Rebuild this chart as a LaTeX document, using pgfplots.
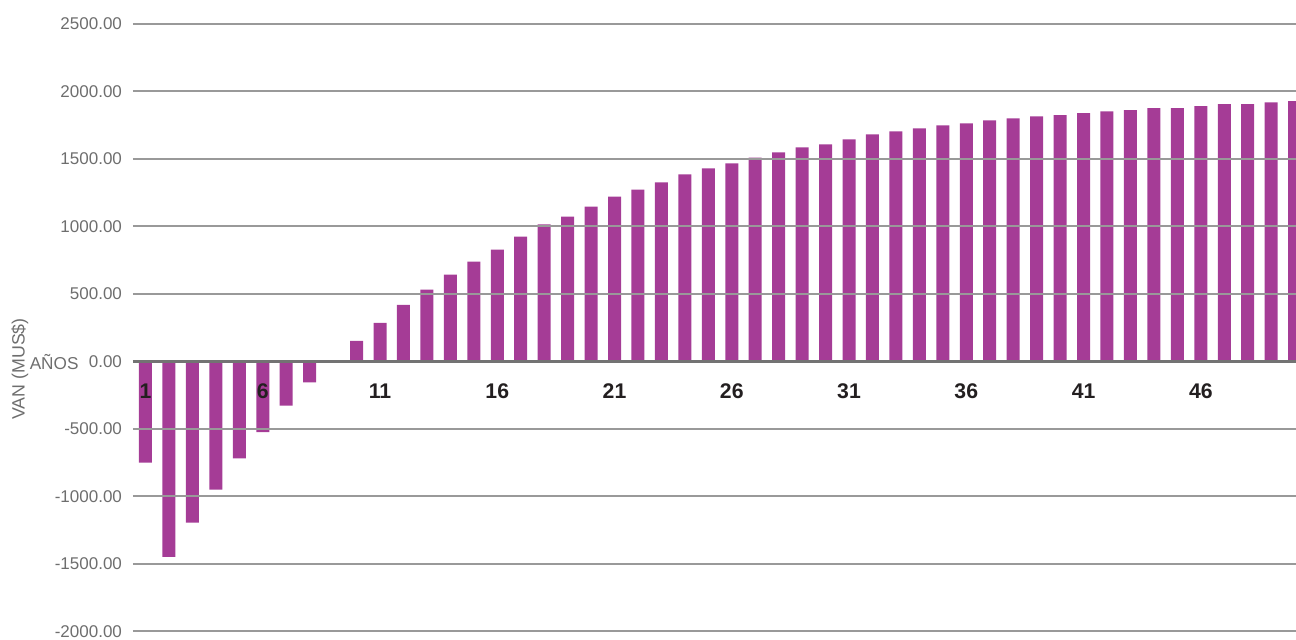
\documentclass[border=0pt]{standalone}
\usepackage{fontspec}
\setmainfont{Liberation Sans}
\usepackage{pgfplots}
\pgfplotsset{compat=1.18}
\definecolor{barpurple}{HTML}{A53C96}
\definecolor{gridgray}{HTML}{999999}
\definecolor{zerogray}{HTML}{737373}
\definecolor{labelgray}{HTML}{6E6E6E}
\definecolor{yearc}{HTML}{231F20}

\begin{document}
\begin{tikzpicture}
\begin{axis}[
  width=581.5pt, height=303.8pt, scale only axis,
  ybar, bar width=6.5pt,
  xmin=0.467, xmax=50.06,
  ymin=-2000, ymax=2500,
  xtick={1,6,...,46},
  ytick={-2000,-1500,...,2500},
  axis line style={draw=none},
  major tick length=0pt,
  ymajorgrids,
  grid style={color=gridgray, line width=1pt},
  extra y ticks={0},
  extra y tick labels={},
  extra y tick style={grid style={color=zerogray, line width=1.5pt}},
  axis on top,
  /pgf/number format/assume math mode=true,
  yticklabel style={font=\fontsize{8.5}{10}\selectfont, text=labelgray, xshift=-2pt,
    /pgf/number format/.cd, fixed, fixed zerofill, precision=2, 1000 sep={}, /tikz/.cd},
  xticklabel style={font=\bfseries\fontsize{10.6}{12}\selectfont, text=yearc,
    anchor=center, yshift=120.15pt},
  xlabel={AÑOS},
  xlabel style={at={(axis description cs:-0.08796,0.4312)}, anchor=base west,
    xshift=-4pt, font=\fontsize{8.6}{10}\selectfont, text=labelgray},
  ylabel={VAN (MUS\$)},
  ylabel style={at={(axis description cs:-0.0972,0.4284)}, anchor=center,
    xshift=1pt, font=\fontsize{8.9}{10}\selectfont, text=labelgray},
]
\addplot[fill=barpurple, draw=none] coordinates {
  (1,-751) (2,-1448) (3,-1196) (4,-951) (5,-720) (6,-525) (7,-328) (8,-157)
  (9,0) (10,151) (11,285) (12,418) (13,530) (14,641) (15,738) (16,827)
  (17,923) (18,1013) (19,1072) (20,1146) (21,1220) (22,1272) (23,1324)
  (24,1384) (25,1428) (26,1465) (27,1508) (28,1547) (29,1584) (30,1606)
  (31,1643) (32,1680) (33,1702) (34,1725) (35,1747) (36,1762) (37,1784)
  (38,1799) (39,1814) (40,1822) (41,1837) (42,1851) (43,1859) (44,1874)
  (45,1874) (46,1889) (47,1904) (48,1904) (49,1918) (50,1926)
};
\coordinate (SW) at (rel axis cs:0,0);
\coordinate (NE) at (rel axis cs:1,1);
\end{axis}
\pgfresetboundingbox
\path ([xshift=-66.5pt,yshift=-3.85pt]SW) rectangle ([yshift=11.85pt]NE);
\end{tikzpicture}
\end{document}
